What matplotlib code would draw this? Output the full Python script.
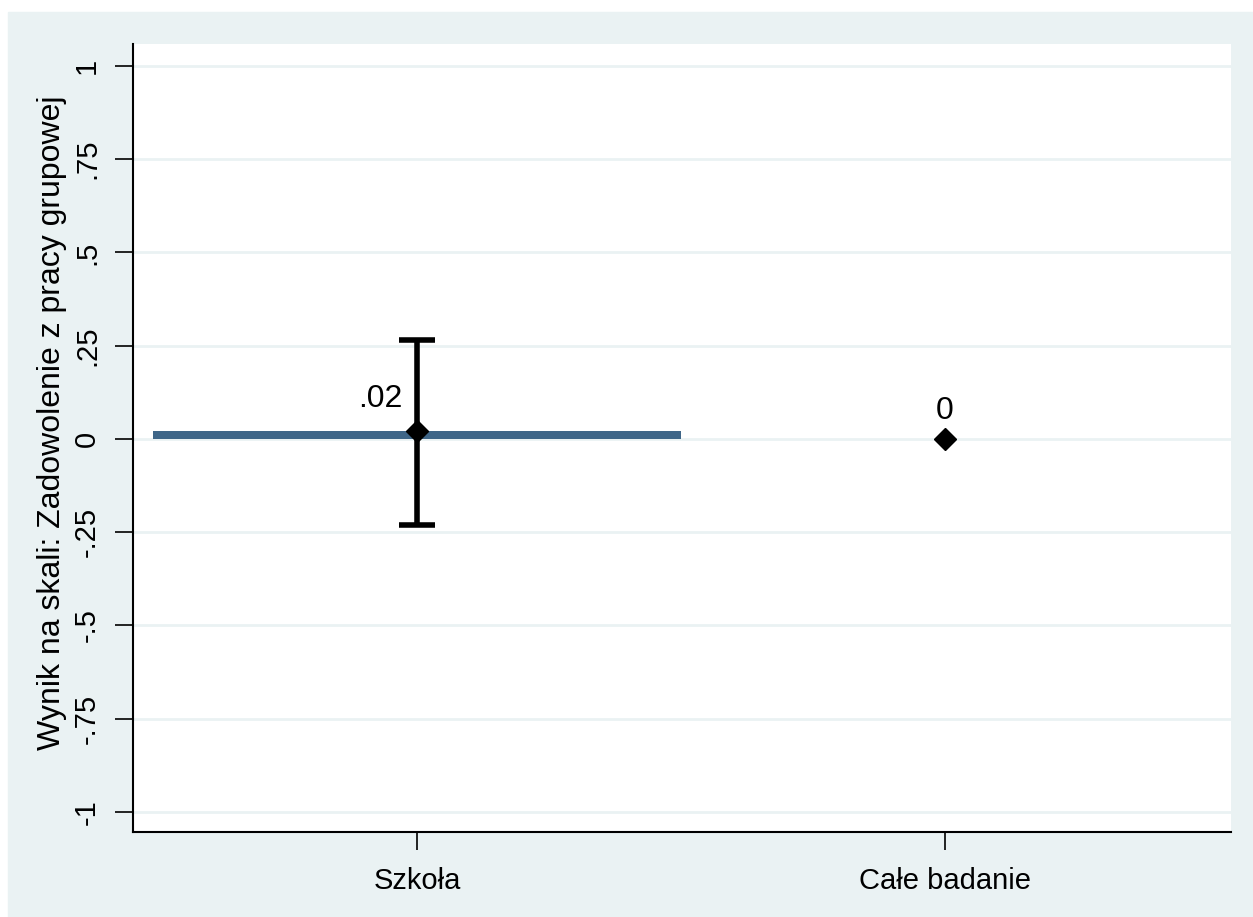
import numpy as np
import matplotlib.pyplot as plt
from matplotlib.patches import Rectangle

plt.rcParams['font.family'] = ['Liberation Sans', 'DejaVu Sans']

categories = ["Szkoła", "Całe badanie"]
means = [0.02, 0.0]
ci_low = [-0.23, np.nan]
ci_high = [0.265, np.nan]
value_labels = [".02", "0"]
yticks = [-1, -0.75, -0.5, -0.25, 0, 0.25, 0.5, 0.75, 1]
yticklabels = ["-1", "-.75", "-.5", "-.25", "0", ".25", ".5", ".75", "1"]

W, H = 1253, 917
fig = plt.figure(figsize=(W / 100, H / 100), dpi=100, facecolor="white")
fig.patches.append(Rectangle((8 / W, 0), 1 - 8 / W, 1 - 12 / H,
                             transform=fig.transFigure, color="#EAF2F3", zorder=-10))

ax = fig.add_axes([133 / W, 1 - 832 / H, (1231 - 133) / W, (832 - 44) / H])
ax.set_facecolor("white")

x = np.arange(len(categories))

# only the first group has a bar
ax.bar(x[0], means[0], width=1.0, color="#3F6688", zorder=3)

for i in range(len(categories)):
    if not np.isnan(ci_low[i]):
        ax.errorbar(x[i], means[i],
                    yerr=[[means[i] - ci_low[i]], [ci_high[i] - means[i]]],
                    fmt="none", ecolor="black", elinewidth=4, capsize=13,
                    capthick=4, zorder=4)
    ax.plot(x[i], means[i], marker="D", color="black", markersize=11, zorder=5)

ax.text(x[0] - 0.028, 0.107, value_labels[0], ha="right", va="center", fontsize=23)
ax.text(x[1], 0.075, value_labels[1], ha="center", va="center", fontsize=23)

ax.set_xlim(-0.538, 1.542)
ax.set_ylim(-1.054, 1.059)
ax.set_xticks(x)
ax.set_xticklabels(categories, fontsize=21)
ax.set_yticks(yticks)
ax.set_yticklabels(yticklabels, fontsize=21, rotation=90, va="center")
ax.grid(axis="y", color="#EAF2F3", linewidth=2, zorder=0)
ax.set_axisbelow(True)

ax.tick_params(axis="both", direction="out", length=13, width=1.2, pad=10)
ax.tick_params(axis="x", pad=12)
for s in ["top", "right"]:
    ax.spines[s].set_visible(False)
for s in ["left", "bottom"]:
    ax.spines[s].set_linewidth(1.5)

ax.set_ylabel("Wynik na skali: Zadowolenie z pracy grupowej", fontsize=23)
ax.yaxis.set_label_coords(-0.06, 0.519)

fig.savefig("out.png", dpi=100, facecolor=fig.get_facecolor())
